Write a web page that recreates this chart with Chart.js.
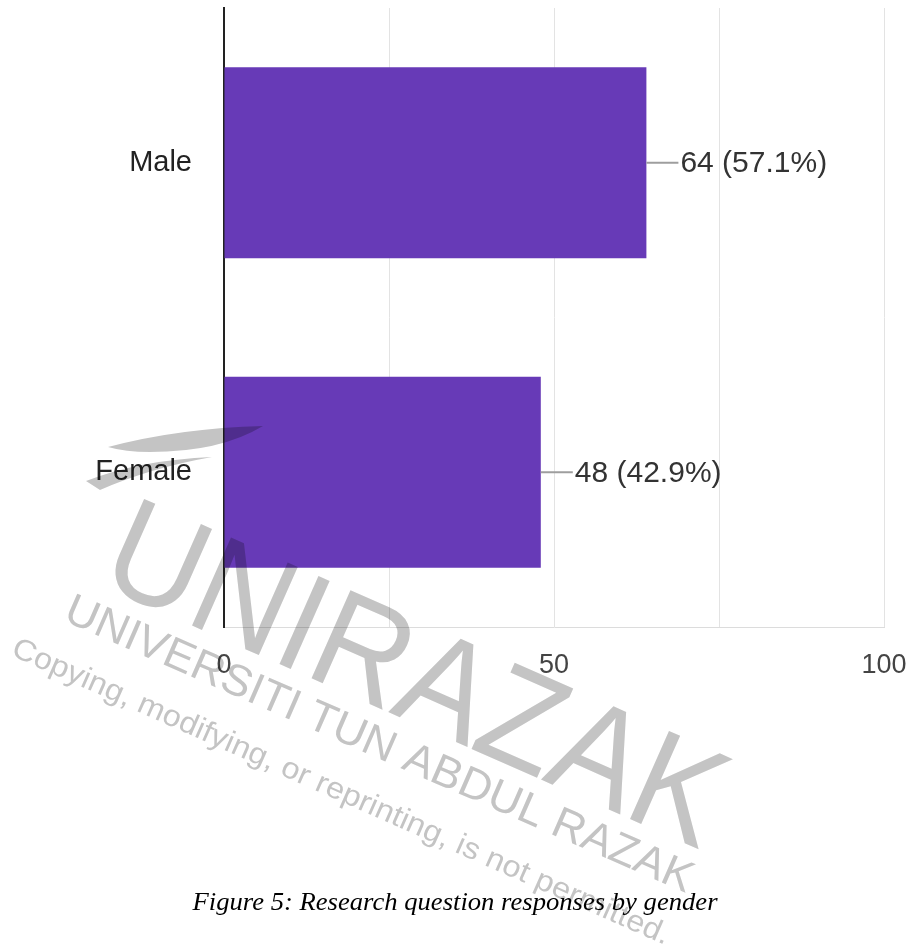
<!DOCTYPE html>
<html>
<head>
<meta charset="utf-8">
<script src="https://cdn.jsdelivr.net/npm/chart.js@4.4.1/dist/chart.umd.min.js"></script>
<style>
  html, body { margin: 0; padding: 0; background: #fff; }
  #wrap { position: relative; width: 914px; height: 948px; }
</style>
</head>
<body>
<div id="wrap"><canvas id="genderChart"></canvas></div>
<script>
// data
const categories = ['Male', 'Female'];
const counts = [64, 48];
const percents = [57.1, 42.9];
const xTicks = [0, 50, 100];

const caption = 'Figure 5: Research question responses by gender';
const wmBig = 'UNIRAZAK';
const wmName = 'UNIVERSITI TUN ABDUL RAZAK';
const wmNote = 'Copying, modifying, or reprinting, is not permitted.';

const sans = '"Liberation Sans", Arial, sans-serif';

// draw text along a line from (x1,y1) to (x2,y2), stretched to fit
function fitText(ctx, text, x1, y1, x2, y2, size) {
    const len = Math.hypot(x2 - x1, y2 - y1);
    const ang = Math.atan2(y2 - y1, x2 - x1);
    ctx.save();
    ctx.font = size + 'px ' + sans;
    const w = ctx.measureText(text).width;
    ctx.translate(x1, y1);
    ctx.rotate(ang);
    ctx.scale(len / w, 1);
    ctx.textBaseline = 'alphabetic';
    ctx.textAlign = 'left';
    ctx.fillText(text, 0, 0);
    ctx.restore();
}

const labelPlugin = {
    id: 'valueLabels',
    afterDatasetsDraw(chart) {
        const ctx = chart.ctx;
        const bars = chart.getDatasetMeta(0).data;
        ctx.save();
        bars.forEach((bar, i) => {
            ctx.strokeStyle = '#9e9e9e';
            ctx.lineWidth = 2;
            ctx.beginPath();
            ctx.moveTo(bar.x, bar.y);
            ctx.lineTo(bar.x + 32, bar.y);
            ctx.stroke();
            ctx.fillStyle = '#333';
            ctx.font = '30px ' + sans;
            ctx.textBaseline = 'middle';
            ctx.textAlign = 'left';
            ctx.fillText(counts[i] + ' (' + percents[i].toFixed(1) + '%)', bar.x + 34, bar.y + 1);
        });
        ctx.restore();
    },
    afterDraw(chart) {
        const ctx = chart.ctx;
        ctx.save();
        // caption
        ctx.fillStyle = '#000';
        ctx.font = 'italic 26px "Liberation Serif", "Times New Roman", serif';
        let w = ctx.measureText(caption).width;
        ctx.save();
        ctx.translate(455, 910);
        ctx.scale(525 / w, 1);
        ctx.textAlign = 'center';
        ctx.fillText(caption, 0, 0);
        ctx.restore();

        // watermark
        ctx.globalCompositeOperation = 'multiply';
        ctx.fillStyle = 'rgb(196,196,196)';
        // logo swoosh
        ctx.beginPath();
        ctx.moveTo(108, 447);
        ctx.quadraticCurveTo(180, 428, 263, 426);
        ctx.quadraticCurveTo(220, 452, 150, 452);
        ctx.quadraticCurveTo(125, 452, 108, 447);
        ctx.fill();
        ctx.beginPath();
        ctx.moveTo(86, 481);
        ctx.quadraticCurveTo(140, 460, 212, 457);
        ctx.quadraticCurveTo(150, 468, 100, 490);
        ctx.closePath();
        ctx.fill();

        fitText(ctx, wmBig, 96, 583, 700, 850, 140);
        fitText(ctx, wmName, 62, 620, 686, 893, 44);
        fitText(ctx, wmNote, 10, 655, 665, 945, 30);
        ctx.restore();
    }
};

const ctx = document.getElementById('genderChart').getContext('2d');
new Chart(ctx, {
    type: 'bar',
    data: {
        labels: categories,
        datasets: [{
            data: counts,
            backgroundColor: '#673ab7',
            borderWidth: 0,
            barPercentage: 0.617,
            categoryPercentage: 1
        }]
    },
    options: {
        indexAxis: 'y',
        responsive: true,
        maintainAspectRatio: false,
        animation: false,
        layout: { padding: { top: 8, right: 30, bottom: 261, left: 0 } },
        plugins: {
            legend: { display: false },
            tooltip: { enabled: false }
        },
        scales: {
            x: {
                min: 0,
                max: 100,
                afterFit: s => { s.height = 60; s.paddingLeft = 0; s.paddingRight = 0; },
                grid: { color: '#e3e3e3', lineWidth: 1, drawTicks: false },
                border: { color: '#dcdcdc', width: 1 },
                ticks: {
                    stepSize: 25,
                    padding: 22,
                    color: '#444',
                    font: { family: sans, size: 27 },
                    callback: v => xTicks.includes(v) ? String(v) : ''
                }
            },
            y: {
                afterFit: s => { s.width = 224; s.paddingTop = 0; s.paddingBottom = 0; },
                grid: { display: false, drawTicks: true, tickLength: 32 },
                border: { color: '#222', width: 2 },
                ticks: {
                    padding: 0,
                    color: '#222',
                    font: { family: sans, size: 29 }
                }
            }
        }
    },
    plugins: [labelPlugin]
});
</script>
</body>
</html>
